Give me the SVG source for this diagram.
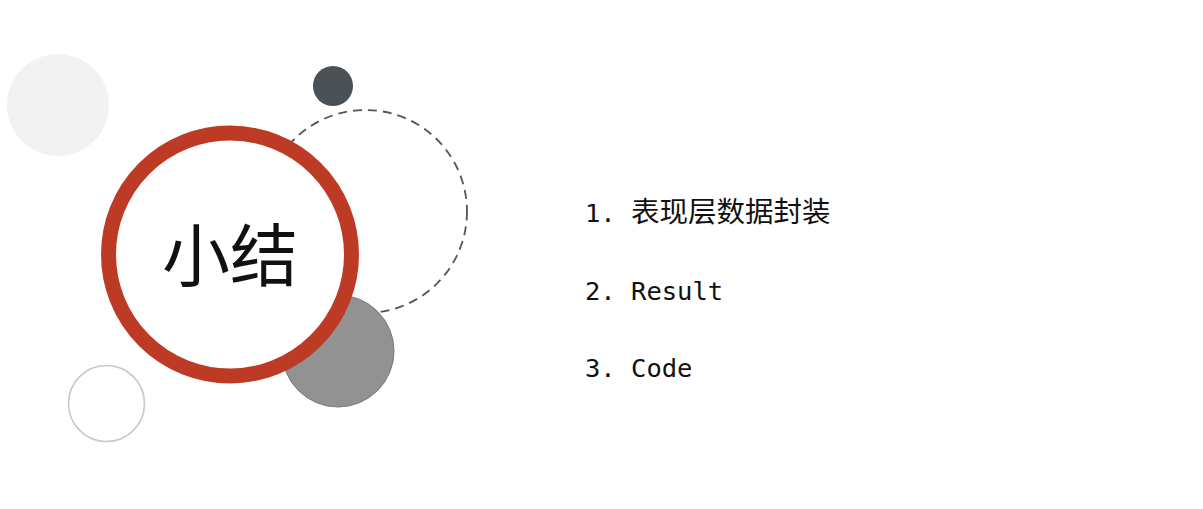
<svg xmlns="http://www.w3.org/2000/svg" width="1203" height="509" viewBox="0 0 1203 509">
<style>
.item{font-family:"DejaVu Sans Mono","Liberation Mono","Noto Sans CJK SC",monospace;font-size:25.5px;fill:#111}
.cjk{font-family:"Noto Sans CJK SC",sans-serif;font-size:28.5px}
.title{font-family:"Noto Sans CJK SC","Noto Sans",sans-serif;font-size:68px;fill:#111;text-anchor:middle}
</style>
<rect width="1203" height="509" fill="#ffffff"/>
<g id="deco-light"><circle cx="58" cy="105" r="51" fill="#f2f2f2"/></g>
<g id="deco-dark"><circle cx="333" cy="86" r="20" fill="#4a5054"/></g>
<g id="deco-dashed"><circle cx="365.5" cy="211.5" r="101.5" fill="none" stroke="#555" stroke-width="1.8" stroke-dasharray="9,6"/></g>
<g id="deco-gray"><circle cx="338" cy="351" r="56" fill="#929292" stroke="#7a7a7a" stroke-width="1"/></g>
<g id="deco-outline"><circle cx="106.5" cy="403.5" r="38" fill="none" stroke="#c8c8c8" stroke-width="1.6"/></g>
<g id="main">
<circle cx="230" cy="254.5" r="121.5" fill="#ffffff" stroke="#bd3a25" stroke-width="15"/>
<text class="title" x="230" y="281">小结</text>
</g>
<g id="list">
<text class="item" x="585" y="222">1. <tspan class="cjk">表现层数据封装</tspan></text>
<text class="item" x="585" y="300">2. Result</text>
<text class="item" x="585" y="377">3. Code</text>
</g>
</svg>
